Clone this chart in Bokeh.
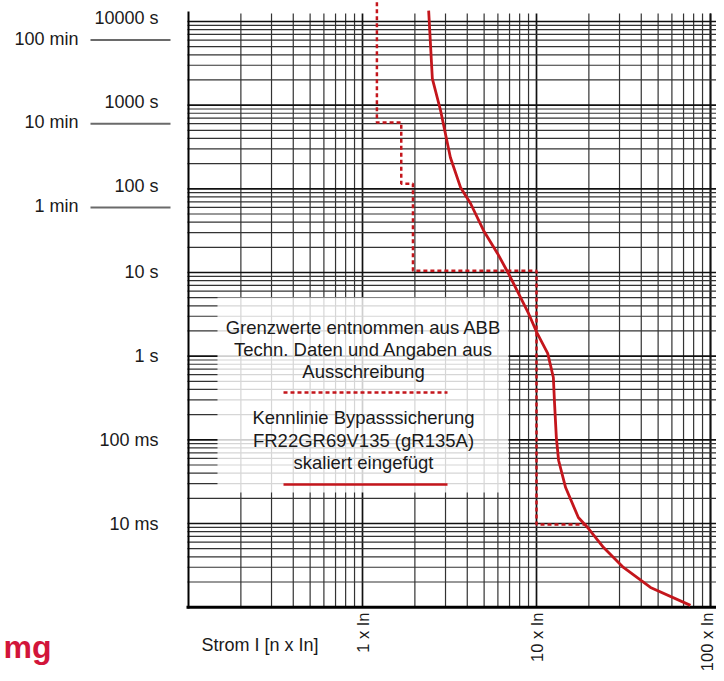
import math
from bokeh.plotting import figure
from bokeh.models import Range1d
from bokeh.core.properties import value
from bokeh.embed import file_html
from bokeh.resources import INLINE

# ---------------- data ----------------
# Fuse characteristic (solid red): current in multiples of In, time in s
fuse_current = [2.40, 2.52, 2.81, 3.20, 3.66, 4.18, 4.96, 5.97, 6.90, 7.88, 9.00,
                10.1, 11.6, 12.5, 12.7, 13.0, 13.4, 14.7, 17.4, 19.9, 24.3, 31.6,
                45.2, 76.7]
fuse_time = [13500, 2080, 863, 237, 104, 66.8, 31.8, 16.9, 9.73, 5.61, 3.24,
             1.87, 1.08, 0.556, 0.272, 0.107, 0.0566, 0.0269, 0.0118, 0.0087,
             0.00516, 0.00298, 0.00172, 0.00105]

# Limit values (dashed red step line)
limit_current = [1.21, 1.21, 1.67, 1.67, 1.95, 1.95, 10, 10, 20]
limit_time = [17000, 620, 620, 115, 115, 10.5, 10.5, 0.0097, 0.0097]

# Time axis labels
sec_ticks = [10000, 1000, 100, 10, 1, 0.1, 0.01]
sec_labels = ["10000 s", "1000 s", "100 s", "10 s", "1 s", "100 ms", "10 ms"]
min_ticks = [6000, 600, 60]
min_labels = ["100 min", "10 min", "1 min"]

# Current axis labels
cur_ticks = [1, 10, 100]
cur_labels = ["1 x In", "10 x In", "100 x In"]
x_title = "Strom I [n x In]"

legend_lines = ["Grenzwerte entnommen aus ABB", "Techn. Daten und Angaben aus",
                "Ausschreibung", "Kennlinie Bypasssicherung",
                "FR22GR69V135 (gR135A)", "skaliert eingefügt"]

# ---------------- layout helpers (canvas pixel -> data) ----------------
X0, XDEC = 362.0, 174.0      # pixel of 1 x In, pixels per decade
Y0, YDEC = 523.0, 83.67      # pixel of 10 ms, pixels per decade
W, H = 716, 673


def X(px):
    return 10 ** ((px - X0) / XDEC)


def Y(py):
    return 10 ** ((Y0 - py) / YDEC - 2)


def PY(t):
    return Y0 - (math.log10(t) + 2) * YDEC


def PX(c):
    return X0 + math.log10(c) * XDEC


RED = "#c4161c"
INK = "#1a1a1a"
FONT = value("Liberation Sans")

p = figure(width=W, height=H, x_axis_type="log", y_axis_type="log",
           x_range=Range1d(X(0), X(W)), y_range=Range1d(Y(H), Y(0)),
           output_backend="svg", toolbar_location=None, min_border=0,
           x_axis_location=None, y_axis_location=None,
           outline_line_color=None, background_fill_color="white",
           border_fill_color="white")
p.grid.visible = False

# ---------------- grid ----------------
t_bottom = 0.001
t_top = Y(13)
vx = [k * 10 ** d for d in range(-1, 3) for k in range(1, 10)][1:] + [100]
vx_minor = [v for v in vx if abs(math.log10(v) - round(math.log10(v))) > 1e-9]
vx_major = [v for v in vx if abs(math.log10(v) - round(math.log10(v))) <= 1e-9]
p.segment(x0=vx_minor, x1=vx_minor, y0=[t_bottom] * len(vx_minor), y1=[t_top] * len(vx_minor),
          line_color="#333333", line_width=1.2)
p.segment(x0=vx_major, x1=vx_major, y0=[t_bottom] * len(vx_major), y1=[t_top] * len(vx_major),
          line_color="#111111", line_width=1.7)

hy = [k * 10 ** d for d in range(-3, 4) for k in range(1, 10)][1:] + [10000]
hy_minor = [v for v in hy if abs(math.log10(v) - round(math.log10(v))) > 1e-9]
hy_major = [v for v in hy if abs(math.log10(v) - round(math.log10(v))) <= 1e-9]
x_left, x_right = X(187), X(W + 20)
p.segment(x0=[x_left] * len(hy_minor), x1=[x_right] * len(hy_minor), y0=hy_minor, y1=hy_minor,
          line_color="#333333", line_width=1.2)
p.segment(x0=[x_left] * len(hy_major), x1=[x_right] * len(hy_major), y0=hy_major, y1=hy_major,
          line_color="#111111", line_width=1.7)

# axes lines
p.segment(x0=[X(188)], x1=[X(188)], y0=[Y(608)], y1=[Y(11)], line_color="black", line_width=2)
p.segment(x0=[X(186)], x1=[X(W + 20)], y0=[t_bottom], y1=[t_bottom], line_color="black", line_width=3)

# ---------------- legend box ----------------
p.quad(left=[X(217)], right=[X(508)], top=[Y(297)], bottom=[Y(492)],
       fill_color="white", fill_alpha=0.8, line_color=None)
leg_py = [327, 349, 371, 417, 440, 462]
p.text(x=[X(363)] * len(legend_lines), y=[Y(v) for v in leg_py], text=legend_lines,
       text_font=FONT, text_font_size="18.5px", text_color=INK,
       text_align="center", text_baseline="middle")
p.line(x=[X(283), X(447)], y=[Y(392), Y(392)], line_color=RED, line_width=2.5, line_dash="4 3")
p.line(x=[X(283), X(447)], y=[Y(484), Y(484)], line_color=RED, line_width=2.5)

# ---------------- curves ----------------
p.line(x=limit_current, y=limit_time, line_color=RED, line_width=2.5, line_dash="4 3")
p.line(x=fuse_current, y=fuse_time, line_color=RED, line_width=2.8, line_join="round")

# ---------------- time labels ----------------
sec_off = [-3, -3, -3, 0, 0, 0, 0]
p.text(x=[X(158)] * len(sec_ticks), y=[Y(PY(t) + o) for t, o in zip(sec_ticks, sec_off)],
       text=sec_labels, text_font=FONT, text_font_size="18px", text_color=INK,
       text_align="right", text_baseline="middle")
p.text(x=[X(78)] * len(min_ticks), y=[Y(PY(t) - 1.5) for t in min_ticks],
       text=min_labels, text_font=FONT, text_font_size="18px", text_color=INK,
       text_align="right", text_baseline="middle")
p.segment(x0=[X(90)] * len(min_ticks), x1=[X(170)] * len(min_ticks), y0=min_ticks, y1=min_ticks,
          line_color="#6a6a6a", line_width=2)

# ---------------- current labels ----------------
# keep the last label inside the canvas edge
cur_px = [min(PX(c), W - 10) for c in cur_ticks]
p.text(x=[X(v) for v in cur_px], y=[Y(612)] * len(cur_ticks), text=cur_labels, angle=math.pi / 2,
       text_font=FONT, text_font_size="16.5px", text_color=INK,
       text_align="right", text_baseline="middle")
p.text(x=[X(201)], y=[Y(644)], text=[x_title], text_font=FONT, text_font_size="18px",
       text_color=INK, text_align="left", text_baseline="middle")

# logo fragment
p.text(x=[X(3)], y=[Y(646)], text=["mg"], text_font=value("Liberation Sans"),
       text_font_style="bold", text_font_size="32px", text_color="#d2153a",
       text_align="left", text_baseline="middle")

open("out.html", "w").write(file_html(p, INLINE))
